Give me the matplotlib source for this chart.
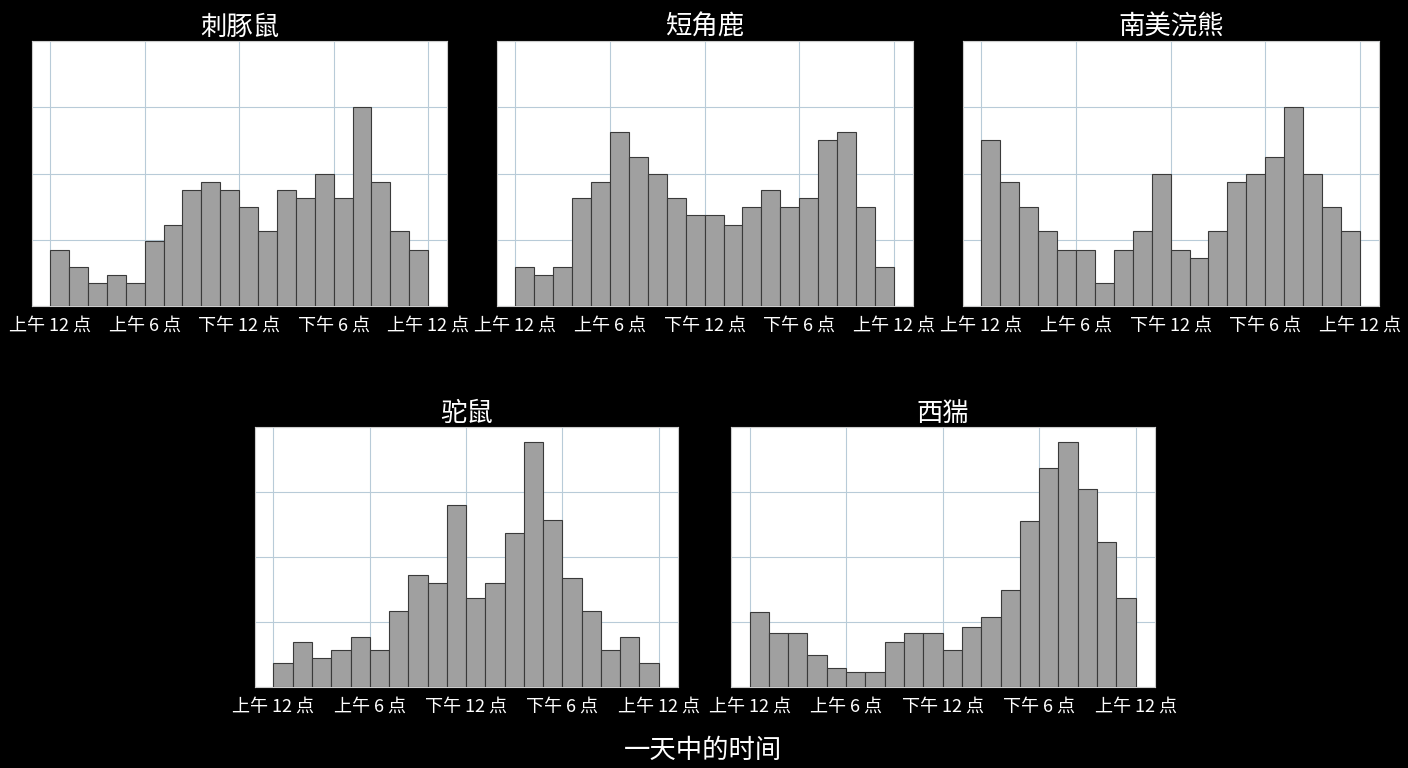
import matplotlib
matplotlib.use("Agg")
import matplotlib.pyplot as plt
import numpy as np

plt.rcParams['font.family'] = ['Noto Sans CJK SC', 'DejaVu Sans']

titles = ["刺豚鼠", "短角鹿", "南美浣熊", "驼鼠", "西猯"]
tick_labels = ["上午 12 点", "上午 6 点", "下午 12 点", "下午 6 点", "上午 12 点"]
agouti = [3.4, 2.35, 1.4, 1.9, 1.4, 3.9, 4.9, 7, 7.5, 7, 6, 4.5, 7, 6.5, 8, 6.5, 12, 7.5, 4.5, 3.4]
brocket = [2.35, 1.9, 2.35, 6.5, 7.5, 10.5, 9, 8, 6.5, 5.5, 5.5, 4.9, 6, 7, 6, 6.5, 10, 10.5, 6, 2.35]
coati = [10, 7.5, 6, 4.5, 3.4, 3.4, 1.4, 3.4, 4.5, 8, 3.4, 2.9, 4.5, 7.5, 8, 9, 12, 8, 6, 4.5]
paca = [1.5, 2.8, 1.8, 2.3, 3.1, 2.3, 4.7, 6.9, 6.4, 11.2, 5.5, 6.4, 9.5, 15.1, 10.3, 6.7, 4.7, 2.3, 3.1, 1.5]
peccary = [4.6, 3.3, 3.3, 2, 1.2, 0.9, 0.9, 2.8, 3.3, 3.3, 2.3, 3.7, 4.3, 6, 10.2, 13.5, 15.1, 12.2, 8.9, 5.5]
series = [agouti, brocket, coati, paca, peccary]
ylims = [16, 16, 16, 16, 16]

W, H = 1408, 768
fig = plt.figure(figsize=(14.08, 7.68), dpi=100, facecolor='black')
boxes = [(32, 41, 447, 306), (497, 41, 913, 306), (963, 41, 1379, 306),
         (255, 427, 678, 687), (731, 427, 1155, 687)]
width = 1.2
for (x0, y0, x1, y1), t, vals, yl in zip(boxes, titles, series, ylims):
    ax = fig.add_axes([x0 / W, 1 - y1 / H, (x1 - x0) / W, (y1 - y0) / H])
    ax.set_facecolor('white')
    left = np.arange(len(vals)) * width
    ax.bar(left, vals, width=width, align='edge', color='#a0a0a0', edgecolor='#3a3a3a', linewidth=0.8, zorder=3)
    ax.set_xlim(-1.15, 25.2)
    ax.set_ylim(0, yl)
    ax.set_xticks([0, 6, 12, 18, 24])
    ax.set_xticklabels(tick_labels, color='white', fontsize=13)
    ax.set_yticks([0, 4, 8, 12, 16])
    ax.set_yticklabels([])
    ax.tick_params(length=0, pad=8)
    ax.grid(True, color='#b8cbd8', linewidth=0.8, zorder=0)
    for s in ax.spines.values():
        s.set_color('#cccccc')
    ax.set_title(t, color='white', fontsize=19, pad=4)

fig.text(703 / W, 1 - 750 / H, "一天中的时间", color='white', fontsize=19, ha='center', va='center')
fig.savefig("out.png", facecolor='black')
